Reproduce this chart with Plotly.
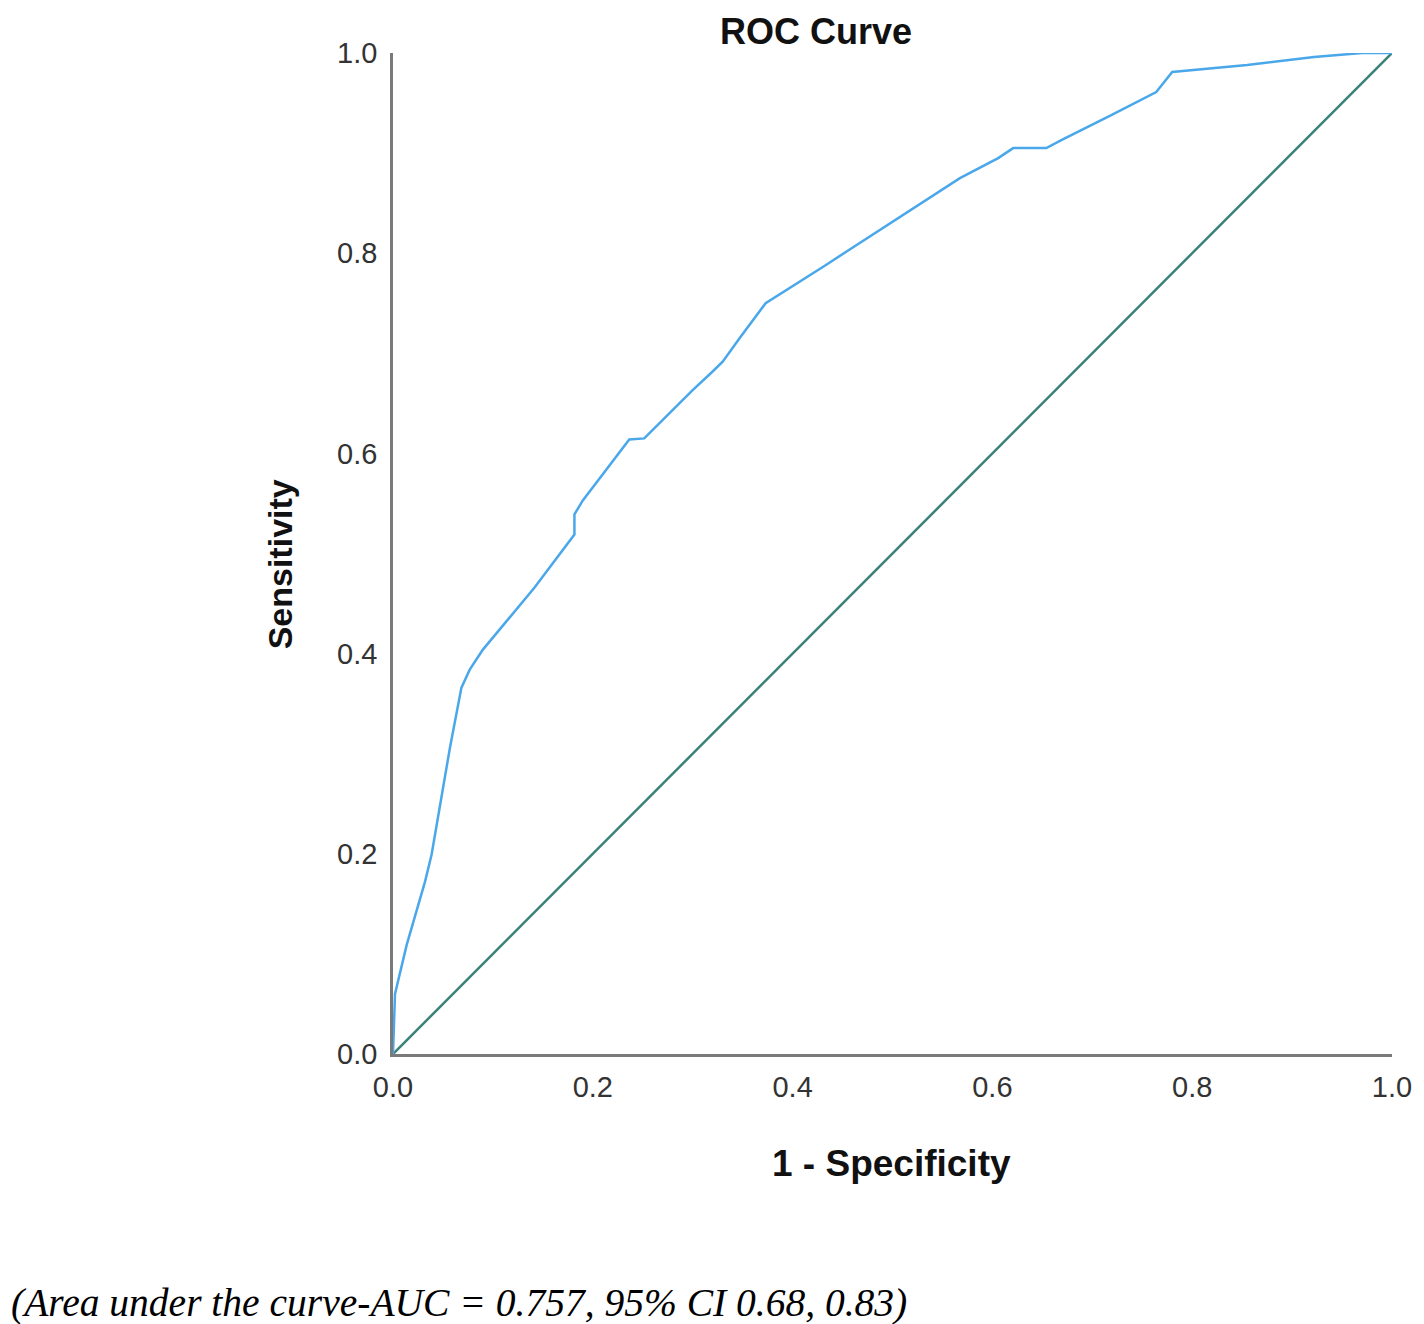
import plotly.graph_objects as go

# ROC curve points (1 - Specificity, Sensitivity)
fpr = [0.0, 0.002, 0.0137, 0.032, 0.0386, 0.057, 0.0685, 0.0768, 0.09, 0.12, 0.1417,
       0.1816, 0.1816, 0.19, 0.2365, 0.2515, 0.2997, 0.3197, 0.33, 0.3397, 0.348,
       0.373, 0.389, 0.433, 0.456, 0.5675, 0.6058, 0.6208, 0.654, 0.669, 0.719,
       0.764, 0.780, 0.855, 0.922, 0.970, 1.0]
tpr = [0.0, 0.06, 0.109, 0.172, 0.199, 0.306, 0.366, 0.384, 0.404, 0.44, 0.466,
       0.519, 0.539, 0.553, 0.614, 0.615, 0.663, 0.6816, 0.6916, 0.705, 0.7166,
       0.75, 0.760, 0.788, 0.803, 0.875, 0.895, 0.905, 0.905, 0.913, 0.938,
       0.961, 0.981, 0.988, 0.996, 1.0, 1.0]
ref_x = [0.0, 1.0]
ref_y = [0.0, 1.0]
ticks = [0.0, 0.2, 0.4, 0.6, 0.8, 1.0]
tick_text = ["0.0", "0.2", "0.4", "0.6", "0.8", "1.0"]

OFF = 8  # default body margin of the html page
W, H = 1424 - OFF, 1324 - OFF
L, R, T, B = 393 - OFF, 29, 53 - OFF, 270

fig = go.Figure()
fig.add_trace(go.Scatter(x=ref_x, y=ref_y, mode="lines",
                         line=dict(color="#3a8279", width=2.5), cliponaxis=False,
                         showlegend=False, hoverinfo="skip"))
fig.add_trace(go.Scatter(x=fpr, y=tpr, mode="lines",
                         line=dict(color="#4aa7ea", width=2.5), cliponaxis=False,
                         showlegend=False))

axis_common = dict(range=[0, 1], showgrid=False, zeroline=False, showline=True,
                   linecolor="#7a7a7a", linewidth=2.5, ticks="",
                   tickvals=ticks, ticktext=tick_text,
                   tickfont=dict(family="Liberation Sans, Arial", size=29, color="#333333"))

fig.update_xaxes(**axis_common, ticklabelstandoff=5)
fig.update_yaxes(**axis_common, ticklabelstandoff=7)

pw = W - L - R
ph = H - T - B


def px(xp):
    return (xp - OFF - L) / pw


def py(yp):
    return (H - B - (yp - OFF)) / ph


fig.update_layout(
    width=W, height=H,
    margin=dict(l=L, r=R, t=T, b=B),
    plot_bgcolor="white", paper_bgcolor="white",
    annotations=[
        dict(text="<b>ROC Curve</b>", x=px(817), y=py(31), xref="paper", yref="paper",
             xanchor="center", yanchor="middle", borderpad=0,
             showarrow=False, font=dict(family="Liberation Sans, Arial", size=36, color="#111111")),
        dict(text="<b>1 - Specificity</b>", x=px(893), y=py(1163), xref="paper", yref="paper",
             xanchor="center", yanchor="middle",
             showarrow=False, font=dict(family="Liberation Sans, Arial", size=37, color="#111111")),
        dict(text="<b>Sensitivity</b>", x=px(280), y=py(564), xref="paper", yref="paper",
             xanchor="center", yanchor="middle",
             textangle=-90, showarrow=False,
             font=dict(family="Liberation Sans, Arial", size=34, color="#111111")),
        dict(text="<i>(Area under the curve-AUC = 0.757, 95% CI 0.68, 0.83)</i>",
             x=px(OFF + 1), y=py(1303), xref="paper", yref="paper", xanchor="left", yanchor="middle",
             borderpad=0,
             showarrow=False, font=dict(family="Liberation Serif, Times New Roman", size=39.5, color="#000000")),
    ],
)

fig.write_html("out.html")
